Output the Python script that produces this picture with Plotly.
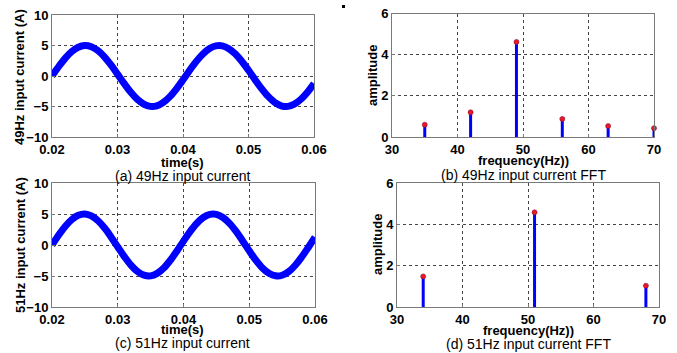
import plotly.graph_objects as go

W, H = 677, 353

# ---- data ----
t = [round(0.02 + 0.001 * k, 3) for k in range(41)]
i49 = [0.0, 1.52, 2.89, 3.99, 4.71, 5.0, 4.81, 4.17, 3.14, 1.81, 0.31, -1.21, -2.63, -3.79,
       -4.6, -4.98, -4.89, -4.33, -3.38, -2.1, -0.63, 0.91, 2.35, 3.58, 4.47, 4.94, 4.95,
       4.48, 3.6, 2.38, 0.94, -0.6, -2.07, -3.35, -4.32, -4.88, -4.98, -4.61, -3.81, -2.65, -1.24]
i51 = [0.0, 1.57, 2.99, 4.1, 4.79, 5.0, 4.69, 3.91, 2.73, 1.27, -0.31, -1.87, -3.24, -4.27,
       -4.87, -4.98, -4.58, -3.71, -2.46, -0.97, 0.63, 2.16, 3.47, 4.43, 4.93, 4.94, 4.44,
       3.49, 2.19, 0.66, -0.94, -2.44, -3.69, -4.56, -4.97, -4.88, -4.29, -3.26, -1.9, -0.35, 1.24]
f49 = [35, 42, 49, 56, 63, 70]
a49 = [0.6, 1.2, 4.62, 0.88, 0.53, 0.43]
f51 = [34, 51, 68]
a51 = [1.48, 4.58, 1.03]

BLUE = "#0000FF"
fig = go.Figure()

def stems(f, a):
    xs, ys = [], []
    for fi, ai in zip(f, a):
        xs += [fi, fi, None]
        ys += [0, ai, None]
    return xs, ys

# (a)
fig.add_trace(go.Scatter(x=t, y=i49, mode="lines", line=dict(color=BLUE, width=7, shape="spline"),
                         xaxis="x", yaxis="y", showlegend=False))
# (c)
fig.add_trace(go.Scatter(x=t, y=i51, mode="lines", line=dict(color=BLUE, width=7, shape="spline"),
                         xaxis="x3", yaxis="y3", showlegend=False))
# (b)
xs, ys = stems(f49, a49)
fig.add_trace(go.Scatter(x=xs, y=ys, mode="lines", line=dict(color=BLUE, width=3),
                         xaxis="x2", yaxis="y2", showlegend=False, cliponaxis=False))
fig.add_trace(go.Scatter(x=f49, y=a49, mode="markers",
                         marker=dict(color="#e8182a", size=5, line=dict(color="#901030", width=0.6)),
                         xaxis="x2", yaxis="y2", showlegend=False, cliponaxis=False))
# (d)
xs, ys = stems(f51, a51)
fig.add_trace(go.Scatter(x=xs, y=ys, mode="lines", line=dict(color=BLUE, width=3),
                         xaxis="x4", yaxis="y4", showlegend=False))
fig.add_trace(go.Scatter(x=f51, y=a51, mode="markers",
                         marker=dict(color="#e8182a", size=5, line=dict(color="#901030", width=0.6)),
                         xaxis="x4", yaxis="y4", showlegend=False))

def px(x0, x1):
    return [x0 / W, x1 / W]

def py(top, bot):
    return [1 - bot / H, 1 - top / H]

tickfont = dict(family="Liberation Sans, Arial", size=13, color="black", weight="bold")
common = dict(showline=True, linecolor="#7a7a7a", linewidth=1, mirror=True,
              showgrid=True, gridcolor="#444444", griddash="dot", gridwidth=1,
              zeroline=False, ticks="inside", ticklen=3, tickcolor="#7a7a7a",
              tickfont=tickfont, automargin=False)

fig.update_layout(
    width=W, height=H, margin=dict(l=0, r=0, t=0, b=0, autoexpand=False),
    paper_bgcolor="white", plot_bgcolor="white",
    xaxis=dict(domain=px(52, 314), range=[0.02, 0.06], tickvals=[0.02, 0.03, 0.04, 0.05, 0.06],
               ticktext=["0.02", "0.03", "0.04", "0.05", "0.06"], anchor="y", **common),
    yaxis=dict(domain=py(15, 137), range=[-10, 10], tickvals=[-10, -5, 0, 5, 10], anchor="x", **common),
    xaxis2=dict(domain=px(392, 654), range=[30, 70], tickvals=[30, 40, 50, 60, 70], anchor="y2", **common),
    yaxis2=dict(domain=py(13.5, 137), range=[0, 6], tickvals=[0, 2, 4, 6], anchor="x2", **common),
    xaxis3=dict(domain=px(52, 315), range=[0.02, 0.06], tickvals=[0.02, 0.03, 0.04, 0.05, 0.06],
                ticktext=["0.02", "0.03", "0.04", "0.05", "0.06"], anchor="y3", **common),
    yaxis3=dict(domain=py(183, 307), range=[-10, 10], tickvals=[-10, -5, 0, 5, 10], anchor="x3", **common),
    xaxis4=dict(domain=px(397, 659), range=[30, 70], tickvals=[30, 40, 50, 60, 70], anchor="y4", **common),
    yaxis4=dict(domain=py(183, 307), range=[0, 6], tickvals=[0, 2, 4, 6], anchor="x4", **common),
)

titlefont = dict(family="Liberation Sans, Arial", size=13, color="black", weight="bold")
capfont = dict(family="Liberation Sans, Arial", size=14, color="black")

def ann(x, y, text, font, angle=0):
    fig.add_annotation(x=x / W, y=1 - y / H, xref="paper", yref="paper", text=text,
                       showarrow=False, font=font, textangle=angle, xanchor="center", yanchor="middle")

ann(183, 162, "time(s)", titlefont)
ann(183, 176, "(a) 49Hz input current", capfont)
ann(523, 161, "frequency(Hz))", titlefont)
ann(523, 175, "(b) 49Hz input current FFT", capfont)
ann(183, 329, "time(s)", titlefont)
ann(183, 343, "(c) 51Hz input current", capfont)
ann(528, 330, "frequency(Hz))", titlefont)
ann(528, 344, "(d) 51Hz input current FFT", capfont)
ann(20, 77, "49Hz input current (A)", titlefont, -90)
ann(20, 245, "51Hz input current (A)", titlefont, -90)
ann(372, 76, "amplitude", titlefont, -90)
ann(377, 245, "amplitude", titlefont, -90)

fig.add_shape(type="rect", xref="paper", yref="paper",
              x0=342 / W, x1=345 / W, y0=1 - 8 / H, y1=1 - 5 / H,
              fillcolor="black", line=dict(width=0))

fig.write_html("out.html", config={"displayModeBar": False},
               post_script="document.body.style.margin='0';document.body.style.overflow='hidden';")
